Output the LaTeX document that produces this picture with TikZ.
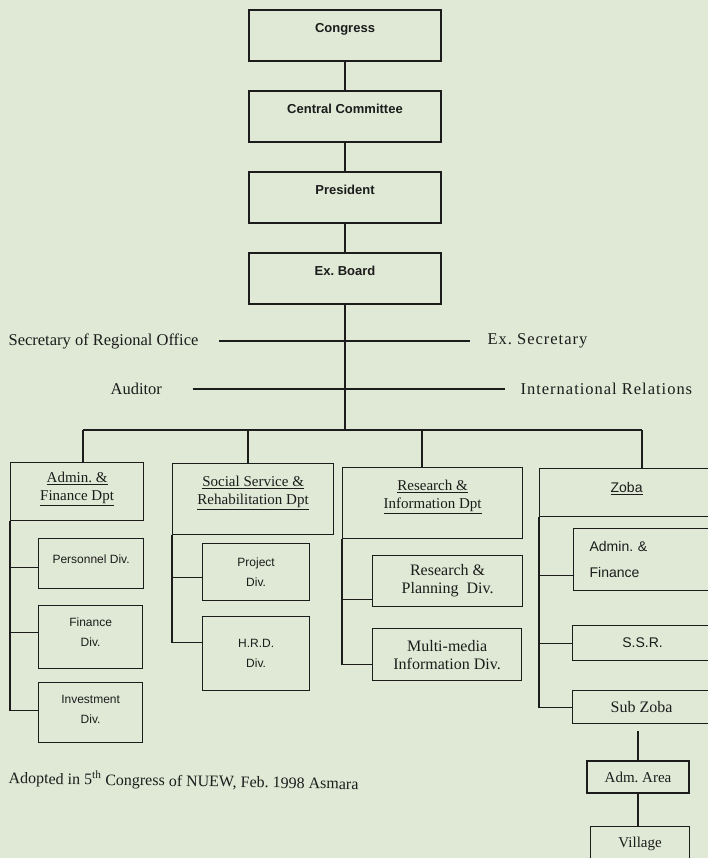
\documentclass[tikz,border=0pt]{standalone}
\usepackage{fontspec}
\setmainfont{Liberation Serif}
\setsansfont{Liberation Sans}
\newfontfamily\spacedrm[LetterSpace=6]{Liberation Serif}
\frenchspacing
\definecolor{paper}{RGB}{223,233,213}
\definecolor{ink}{RGB}{28,28,28}
\tikzset{%
  % Specifications for style of nodes:
         base/.style = {rectangle, draw, inner sep=0pt},
       topbox/.style = {base, minimum width=192pt, minimum height=51pt,
                        font=\sffamily\bfseries\fontsize{13}{15}\selectfont,
                        text height=9pt, text depth=15pt},
         dept/.style = {base, anchor=north west, align=center,
                        font=\fontsize{15}{18}\selectfont},
      divsans/.style = {base, anchor=north west, align=center,
                        font=\sffamily\fontsize{12}{20}\selectfont},
     divserif/.style = {base, anchor=north west, align=center,
                        font=\fontsize{16}{18}\selectfont},
         side/.style = {inner sep=0pt, anchor=west,
                        font=\fontsize{16.5}{20}\selectfont},
}

\begin{document}
\begin{tikzpicture}[x=1pt, y=-1pt, node distance=81pt, color=ink,
    line width=1.2pt]
  \useasboundingbox (0,0) rectangle (708,858);
  \clip (0,0) rectangle (708,858);
  \fill[paper] (0,0) rectangle (708,858);

  % Top of the chart
  \node (congress)  [topbox] at (345,35.5)       {Congress};
  \node (central)   [topbox, below of=congress]  {Central Committee};
  \node (president) [topbox, below of=central]   {President};
  \node (exboard)   [topbox, below of=president] {Ex. Board};

  \draw (congress) -- (central);
  \draw (central) -- (president);
  \draw (president) -- (exboard);

  % Offices beside the board
  \node (secreg)  [side] at (8,341)   {Secretary of Regional Office};
  \node (exsec)   [side, font=\spacedrm\fontsize{16.5}{20}\selectfont]
        at (487,341) {Ex. Secretary};
  \node (auditor) [side] at (110,389) {Auditor};
  \node (intrel)  [side, font=\spacedrm\fontsize{16.5}{20}\selectfont]
        at (520,389) {International Relations};

  \draw[shorten <=20pt, shorten >=17pt] (secreg.east) -- (exsec.west |- secreg.east);
  \draw[shorten <=30pt, shorten >=15pt] (auditor.east) -- (intrel.west |- auditor.east);

  % Departments
  \node (admin)    [dept, minimum width=133pt, minimum height=58pt,
                    text depth=11pt] at (10,462)
        {\underline{Admin. \&}\\\underline{Finance Dpt}};
  \node (social)   [dept, minimum width=161pt, minimum height=71pt,
                    text depth=17pt] at (172,463)
        {\underline{Social Service \&}\\\underline{Rehabilitation Dpt}};
  \node (research) [dept, minimum width=180pt, minimum height=71pt,
                    text depth=17pt] at (342,467)
        {\underline{Research \&}\\\underline{Information Dpt}};
  \node (zoba)     [dept, minimum width=174pt, minimum height=48pt,
                    font=\sffamily\fontsize{14}{17}\selectfont,
                    text height=10pt, text depth=10pt] at (539,468)
        {\underline{Zoba}};

  \coordinate (bus) at (343,430);
  \coordinate (dA) at (83,430);
  \coordinate (dS) at (248,430);
  \coordinate (dR) at (422,430);
  \coordinate (dZ) at (642,430);
  \draw (exboard.south) -- (exboard.south |- bus);
  \draw (dA) -- (dZ);
  \draw (dA) -- (dA |- admin.north);
  \draw (dS) -- (dS |- social.north);
  \draw (dR) -- (dR |- research.north);
  \draw (dZ) -- (dZ |- zoba.north);

  % Divisions
  \node (personnel) [divsans, minimum width=105pt, minimum height=50pt,
                     text height=9pt, text depth=10pt] at (38,538) {Personnel Div.};
  \node (finance)   [divsans, minimum width=104pt, minimum height=63pt,
                     text depth=10pt] at (38,605) {Finance\\Div.};
  \node (invest)    [divsans, minimum width=104pt, minimum height=60pt,
                     text depth=7pt] at (38,682) {Investment\\Div.};
  \node (project)   [divsans, minimum width=107pt, minimum height=57pt]
        at (202,543) {Project\\Div.};
  \node (hrd)       [divsans, minimum width=107pt, minimum height=74pt]
        at (202,616) {H.R.D.\\Div.};
  \node (planning)  [divserif, minimum width=150pt, minimum height=51pt]
        at (372,555) {Research \&\\Planning\ \ Div.};
  \node (media)     [divserif, minimum width=149pt, minimum height=52pt]
        at (372,628) {Multi-media\\Information Div.};
  \node (zadmin)    [divsans, minimum width=140pt, minimum height=62pt,
                     align=left, text width=108pt, inner xsep=15pt,
                     font=\sffamily\fontsize{14}{26}\selectfont]
        at (573,528) {Admin. \&\\Finance};
  \node (ssr)       [divsans, minimum width=140pt, minimum height=35pt,
                     font=\sffamily\fontsize{14}{17}\selectfont]
        at (572,625) {S.S.R.};
  \node (subzoba)   [divserif, minimum width=138pt, minimum height=33pt]
        at (572,690) {Sub Zoba};
  \node (admarea)   [base, minimum width=102pt, minimum height=32pt,
                     font=\fontsize{15}{18}\selectfont] at (638,777) {Adm. Area};
  \node (village)   [divserif, minimum width=99pt, minimum height=34pt,
                     font=\fontsize{15}{18}\selectfont] at (590,826) {Village};

  \draw (admin.south west) |- ([yshift=-4pt]personnel.west);
  \draw (admin.south west) |- ([yshift=4.5pt]finance.west);
  \draw (admin.south west) |- ([yshift=2pt]invest.west);
  \draw (social.south west) |- ([yshift=-5.5pt]project.west);
  \draw (social.south west) |- ([yshift=11pt]hrd.west);
  \draw (research.south west) |- ([yshift=-18.5pt]planning.west);
  \draw (research.south west) |- ([yshift=-10pt]media.west);
  \draw (zoba.south west) |- ([yshift=-16pt]zadmin.west);
  \draw (zoba.south west) |- (ssr.west);
  \draw (zoba.south west) |- (subzoba.west);
  \draw[shorten <=7pt] (admarea |- subzoba.south) -- (admarea);
  \draw (admarea) -- (admarea |- village.north);

  \node (note) [inner sep=0pt, anchor=west, rotate=-1,
                font=\fontsize{16}{19}\selectfont] at (8,778)
        {Adopted in 5\textsuperscript{th} Congress of NUEW, Feb. 1998 Asmara};
\end{tikzpicture}
\end{document}
